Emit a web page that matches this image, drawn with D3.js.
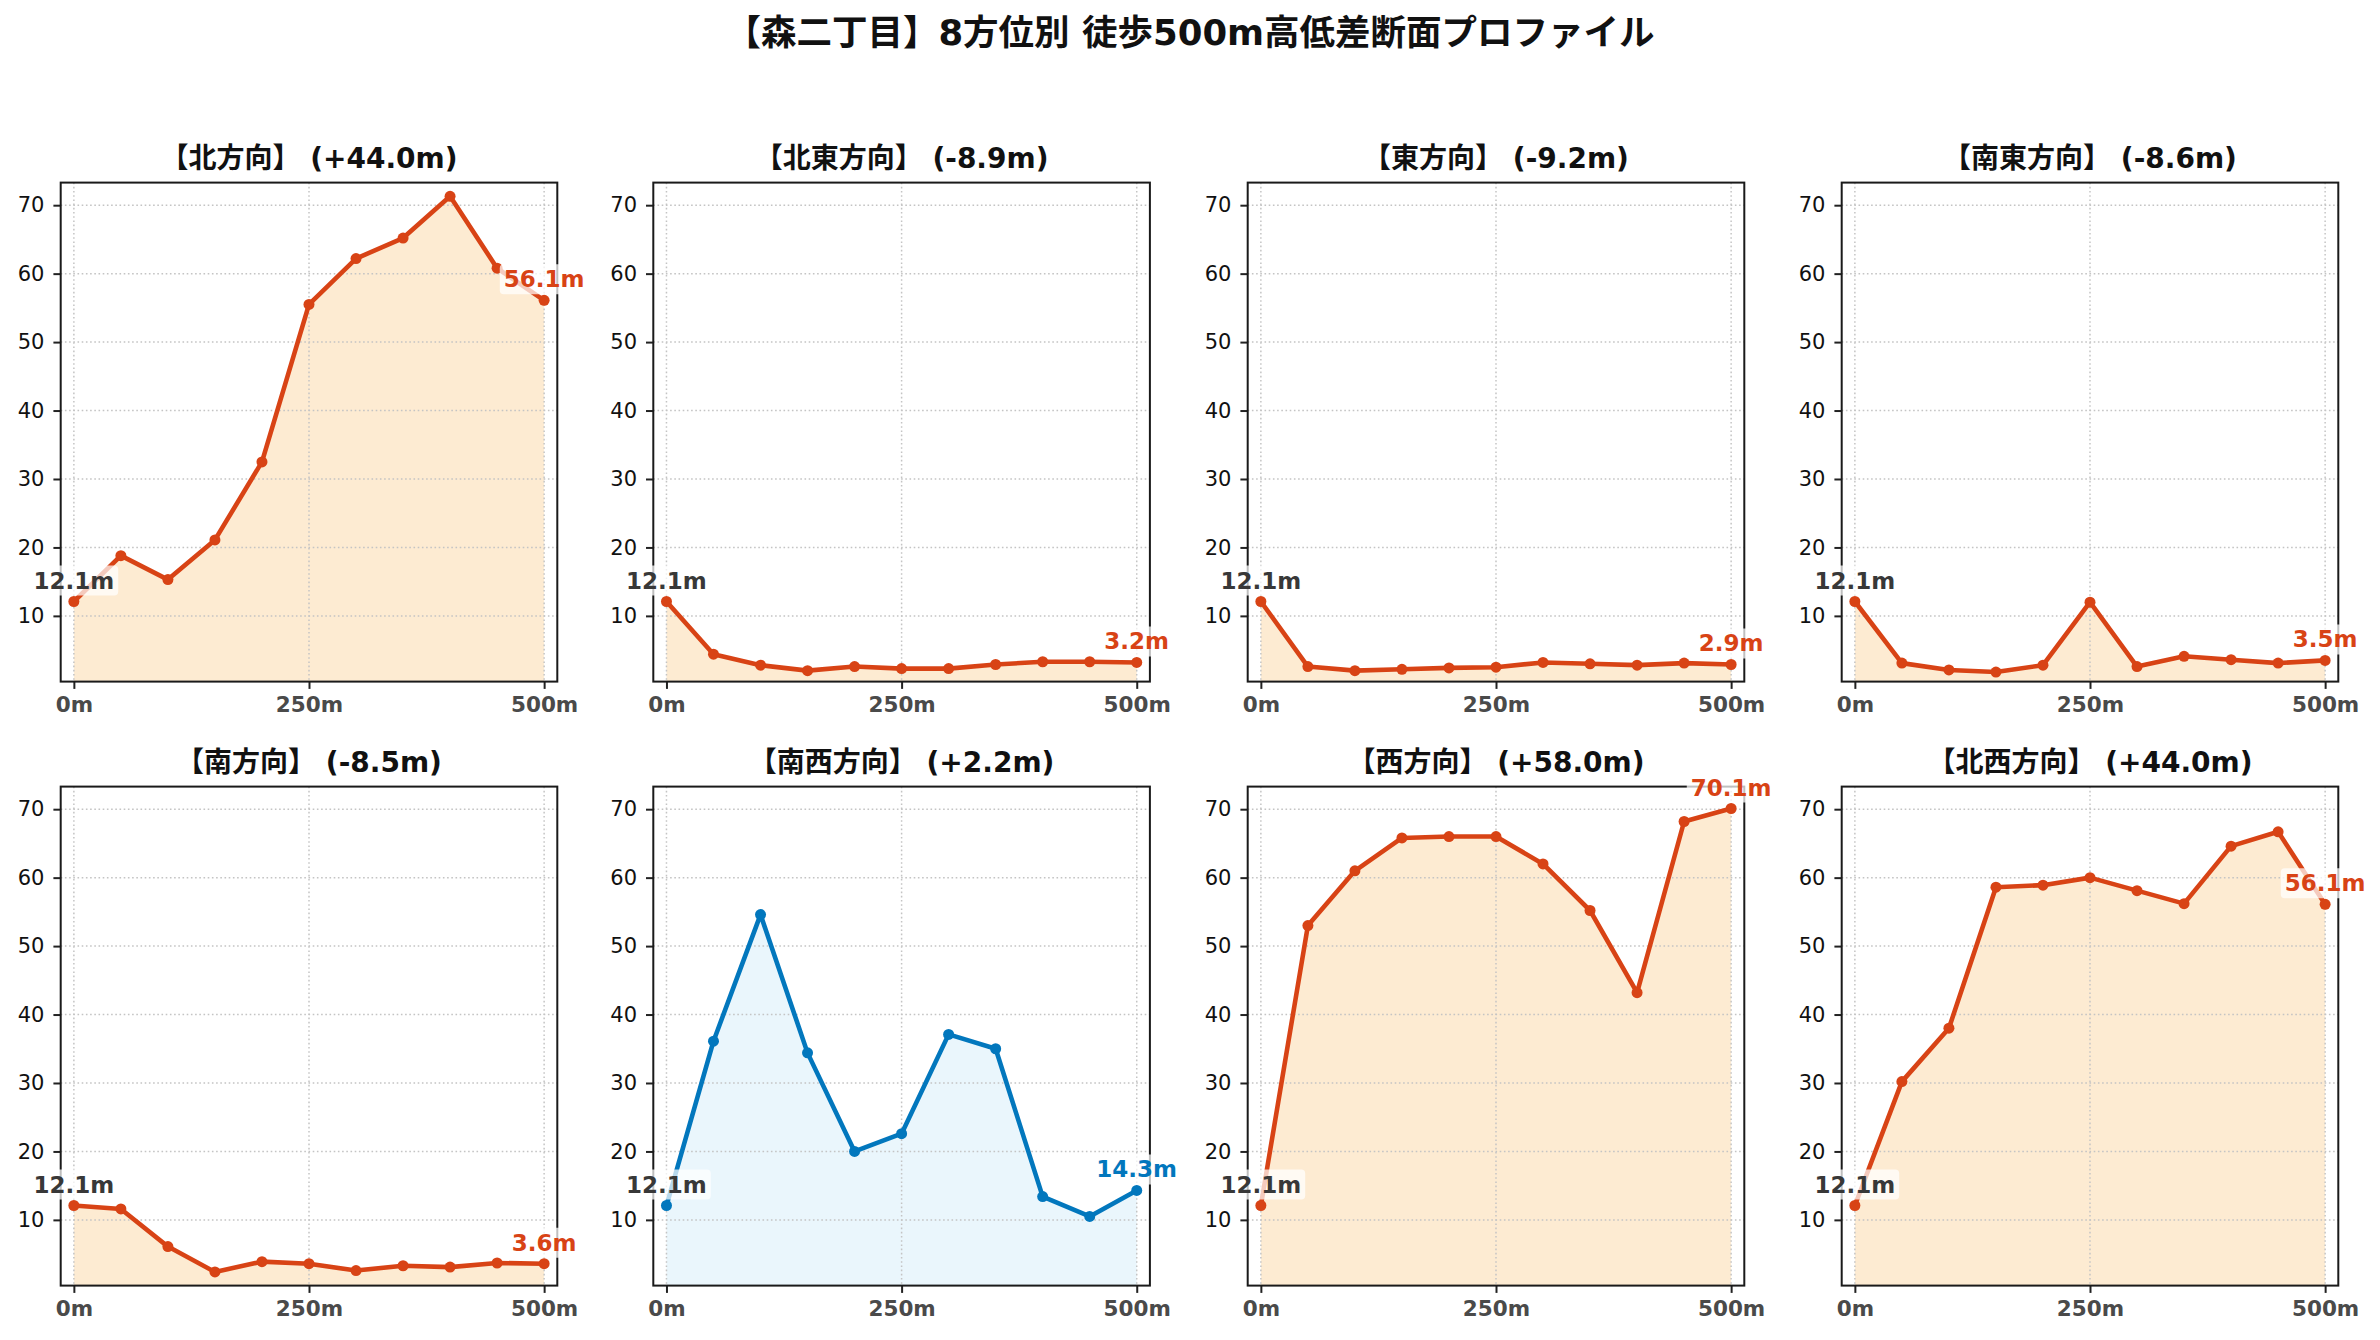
<!DOCTYPE html>
<html>
<head>
<meta charset="utf-8">
<script src="https://cdn.jsdelivr.net/npm/d3@7"></script>
<style>
  body { margin: 0; background: #fff; }
  svg text { font-family: "DejaVu Sans", "Noto Sans CJK JP", sans-serif; }
</style>
</head>
<body>
<svg id="chart" width="2380" height="1340"></svg>
<script>
// distance along each walk (m)
const distances = [0, 50, 100, 150, 200, 250, 300, 350, 400, 450, 500];

// elevation readings per direction (m)
const north     = [12.1, 18.8, 15.3, 21.1, 32.5, 55.5, 62.2, 65.2, 71.3, 60.8, 56.1];
const northEast = [12.1, 4.4, 2.8, 2.0, 2.6, 2.3, 2.3, 2.9, 3.3, 3.3, 3.2];
const east      = [12.1, 2.6, 2.0, 2.2, 2.4, 2.5, 3.2, 3.0, 2.8, 3.1, 2.9];
const southEast = [12.1, 3.1, 2.1, 1.8, 2.8, 12.0, 2.6, 4.1, 3.6, 3.1, 3.5];
const south     = [12.1, 11.6, 6.1, 2.4, 3.9, 3.6, 2.6, 3.3, 3.1, 3.7, 3.6];
const southWest = [12.1, 36.1, 54.6, 34.4, 20.0, 22.6, 37.1, 35.0, 13.4, 10.5, 14.3];
const west      = [12.1, 53.0, 61.0, 65.8, 66.0, 66.0, 62.0, 55.2, 43.2, 68.2, 70.1];
const northWest = [12.1, 30.2, 38.0, 58.6, 58.9, 60.0, 58.1, 56.2, 64.6, 66.7, 56.1];

const directionNames = ["北", "北東", "東", "南東", "南", "南西", "西", "北西"];
const differences = ["+44.0", "-8.9", "-9.2", "-8.6", "-8.5", "+2.2", "+58.0", "+44.0"];
const profiles = [north, northEast, east, southEast, south, southWest, west, northWest];
const isBlue = [false, false, false, false, false, true, false, false];

const xTicks = [0, 250, 500];
const xTickLabels = ["0m", "250m", "500m"];
const yTicks = [10, 20, 30, 40, 50, 60, 70];

const mainTitle = "【森二丁目】8方位別 徒歩500m高低差断面プロファイル";

// layout
const colLeft = [60.7, 653.3, 1247.7, 1841.7];
const rowTop = [182.6, 786.6];
const panelW = 496.6, panelH = 499;

const ORANGE = "#d84315", ORANGE_FILL = "#fdebd2";
const BLUE = "#0277bd", BLUE_FILL = "#eaf6fc";

const svg = d3.select("#chart");

svg.append("text")
  .attr("x", 1190).attr("y", 45)
  .attr("text-anchor", "middle")
  .style("font-size", "35.5px").style("font-weight", "bold")
  .style("fill", "#111")
  .text(mainTitle);

profiles.forEach((values, i) => {
  const col = i % 4, row = Math.floor(i / 4);
  const g = svg.append("g")
    .attr("transform", `translate(${colLeft[col]},${rowTop[row]})`);

  const x = d3.scaleLinear().domain([-14, 514]).range([0, panelW]);
  const y = d3.scaleLinear().domain([0.4, 73.3]).range([panelH, 0]);

  const lineColor = isBlue[i] ? BLUE : ORANGE;
  const fillColor = isBlue[i] ? BLUE_FILL : ORANGE_FILL;
  const pts = distances.map((d, k) => ({ d: d, v: values[k] }));

  // fill under profile
  g.append("path")
    .datum(pts)
    .attr("d", d3.area().x(p => x(p.d)).y0(panelH).y1(p => y(p.v)))
    .style("fill", fillColor);

  // dotted grid
  g.selectAll(".hgrid").data(yTicks).join("line")
    .attr("x1", 0).attr("x2", panelW)
    .attr("y1", d => y(d)).attr("y2", d => y(d))
    .style("stroke", "#c4c4c4").style("stroke-width", 1.5)
    .style("stroke-dasharray", "1.6,2.6");
  g.selectAll(".vgrid").data(xTicks).join("line")
    .attr("y1", 0).attr("y2", panelH)
    .attr("x1", d => x(d)).attr("x2", d => x(d))
    .style("stroke", "#c4c4c4").style("stroke-width", 1.5)
    .style("stroke-dasharray", "1.6,2.6");

  // profile line and markers
  g.append("path")
    .datum(pts)
    .attr("d", d3.line().x(p => x(p.d)).y(p => y(p.v)))
    .style("fill", "none").style("stroke", lineColor)
    .style("stroke-width", 4.6).style("stroke-linejoin", "round");
  g.selectAll(".pt").data(pts).join("circle")
    .attr("cx", p => x(p.d)).attr("cy", p => y(p.v)).attr("r", 5.5)
    .style("fill", lineColor);

  // axes
  const yAxis = g.append("g").call(d3.axisLeft(y).tickValues(yTicks).tickSize(7.3).tickPadding(9));
  yAxis.select(".domain").remove();
  yAxis.selectAll(".tick line").style("stroke", "#222").style("stroke-width", 2);
  yAxis.selectAll(".tick text").style("font-size", "21px").style("fill", "#111")
    .attr("font-family", null);

  const xAxis = g.append("g").attr("transform", `translate(0,${panelH})`)
    .call(d3.axisBottom(x).tickValues(xTicks).tickFormat((d, k) => xTickLabels[k]).tickSize(7.3).tickPadding(8));
  xAxis.select(".domain").remove();
  xAxis.selectAll(".tick line").style("stroke", "#222").style("stroke-width", 2);
  xAxis.selectAll(".tick text").style("font-size", "21.5px").style("font-weight", "bold")
    .style("fill", "#4a4a4a").attr("font-family", null);

  // frame
  g.append("rect").attr("width", panelW).attr("height", panelH)
    .style("fill", "none").style("stroke", "#1a1a1a").style("stroke-width", 2);

  // panel title
  g.append("text")
    .attr("x", panelW / 2).attr("y", -15)
    .attr("text-anchor", "middle")
    .style("font-size", "28px").style("font-weight", "bold").style("fill", "#111")
    .text(`【${directionNames[i]}方向】 (${differences[i]}m)`);

  // start / end labels with translucent boxes
  const labels = [
    { p: pts[0], color: "#383838" },
    { p: pts[pts.length - 1], color: lineColor }
  ];
  labels.forEach(l => {
    const lg = g.append("g");
    const t = lg.append("text")
      .attr("x", x(l.p.d)).attr("y", y(l.p.v) - 13)
      .attr("text-anchor", "middle")
      .style("font-size", "23px").style("font-weight", "bold")
      .style("fill", l.color)
      .text(l.p.v.toFixed(1) + "m");
    const bb = t.node().getBBox();
    lg.insert("rect", "text")
      .attr("x", bb.x - 4).attr("y", bb.y - 2)
      .attr("width", bb.width + 8).attr("height", bb.height + 4)
      .attr("rx", 4)
      .style("fill", "#fff").style("fill-opacity", 0.72);
  });
});
</script>
</body>
</html>
